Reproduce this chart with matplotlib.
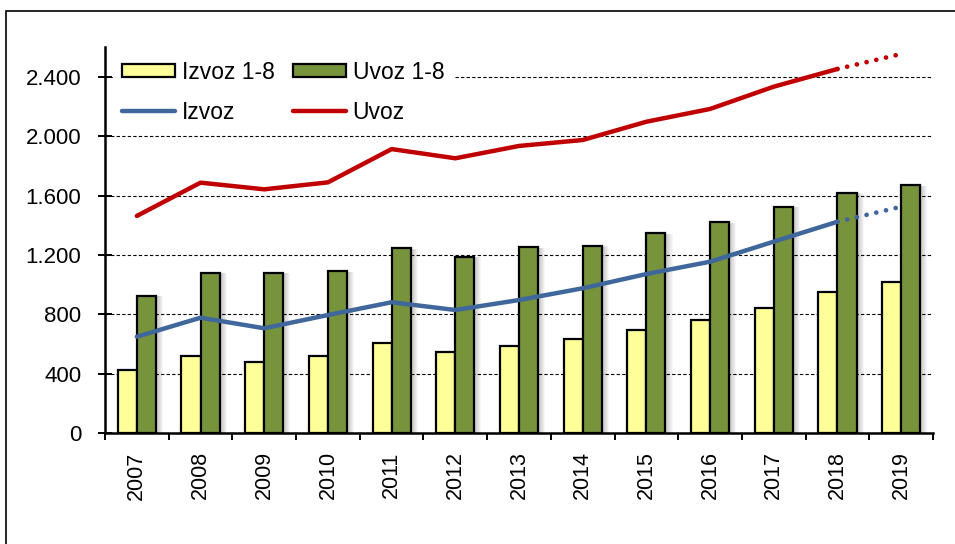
import numpy as np
import matplotlib.pyplot as plt
from matplotlib.patches import Rectangle
from matplotlib.ticker import FuncFormatter

plt.rcParams['font.family'] = ['Liberation Sans', 'DejaVu Sans']

years = ['2007', '2008', '2009', '2010', '2011', '2012', '2013',
         '2014', '2015', '2016', '2017', '2018', '2019']
izvoz_18 = [426, 520, 478, 520, 606, 547, 590, 635, 693, 763, 841, 953, 1020]
uvoz_18 = [926, 1081, 1081, 1090, 1245, 1189, 1252, 1261, 1346, 1420, 1525, 1617, 1669]
izvoz = [650, 778, 707, 796, 882, 830, 897, 976, 1072, 1155, 1290, 1424, 1525]
uvoz = [1463, 1687, 1642, 1689, 1913, 1851, 1934, 1974, 2097, 2183, 2333, 2452, 2553]

x = np.arange(len(years))
w = 0.3
px = 1 / 63.6  # one pixel in category units

fig = plt.figure(figsize=(9.55, 5.44), dpi=100)
ax = fig.add_axes([105 / 955, 1 - 433.3 / 544, 828 / 955, 386.3 / 544])

# outer frame
fig.patches.append(Rectangle((6 / 955, -0.2), 1.5, 1.2 - 11 / 544, transform=fig.transFigure,
                             fill=False, edgecolor='black', lw=1.2, zorder=0))

# soft shadows behind bars
for k in range(1, 8):
    for xs, vals in ((x - w / 2, izvoz_18), (x + w / 2, uvoz_18)):
        ax.bar(xs + k * px, np.array(vals) - k * 0.6, w, color='black', alpha=0.035,
               lw=0, zorder=1.5)

ax.bar(x - w / 2, izvoz_18, w, color='#FFFF99', edgecolor='black', lw=1.6,
       label='Izvoz 1-8', zorder=2)
ax.bar(x + w / 2, uvoz_18, w, color='#77933C', edgecolor='black', lw=1.6,
       label='Uvoz 1-8', zorder=2)

ax.plot(x[:-1], izvoz[:-1], color='#3F679B', lw=3.2, solid_capstyle='round',
        solid_joinstyle='round', label='Izvoz', zorder=3)
ax.plot(x[-2:], izvoz[-2:], color='#3F679B', lw=3.4, ls=(0, (0.01, 2.1)),
        dash_capstyle='round', zorder=3)
ax.plot(x[:-1], uvoz[:-1], color='#C00000', lw=3.2, solid_capstyle='round',
        solid_joinstyle='round', label='Uvoz', zorder=3)
ax.plot(x[-2:], uvoz[-2:], color='#C00000', lw=3.4, ls=(0, (0.01, 2.1)),
        dash_capstyle='round', zorder=3)

ax.set_xlim(-0.5, len(years) - 0.5)
ax.set_ylim(0, 2600)
ax.set_yticks(np.arange(0, 2401, 400))
ax.yaxis.set_major_formatter(FuncFormatter(lambda v, p: f'{int(v):,}'.replace(',', '.')))
ax.yaxis.grid(True, color='black', ls=(0, (3, 2)), lw=0.8)
ax.set_axisbelow(True)

ax.set_xticks(np.arange(-0.5, len(years), 1))
ax.set_xticklabels([])
ax.set_xticks(x, minor=True)
ax.set_xticklabels(years, minor=True, rotation=90)
ax.tick_params(axis='x', which='major', direction='out', length=5, width=1.4)
ax.tick_params(axis='x', which='minor', length=0, pad=13, labelsize=15.5)
ax.tick_params(axis='y', direction='inout', length=10, width=1.4, pad=12, labelsize=16)

for s in ('top', 'right'):
    ax.spines[s].set_visible(False)
for s in ('left', 'bottom'):
    ax.spines[s].set_linewidth(1.8)

h, l = ax.get_legend_handles_labels()
order = [l.index(n) for n in ('Izvoz 1-8', 'Izvoz', 'Uvoz 1-8', 'Uvoz')]
leg = ax.legend([h[i] for i in order], [l[i] for i in order], ncol=2,
                loc='upper left', bbox_to_anchor=(-0.004, 1.018), fontsize=16.5,
                frameon=True, fancybox=False, framealpha=1, edgecolor='white',
                handlelength=2.3, handleheight=0.55, handletextpad=0.3,
                columnspacing=0.8, labelspacing=0.75, borderpad=0.4)
leg.set_zorder(5)

fig.savefig('out.png', dpi=100)
